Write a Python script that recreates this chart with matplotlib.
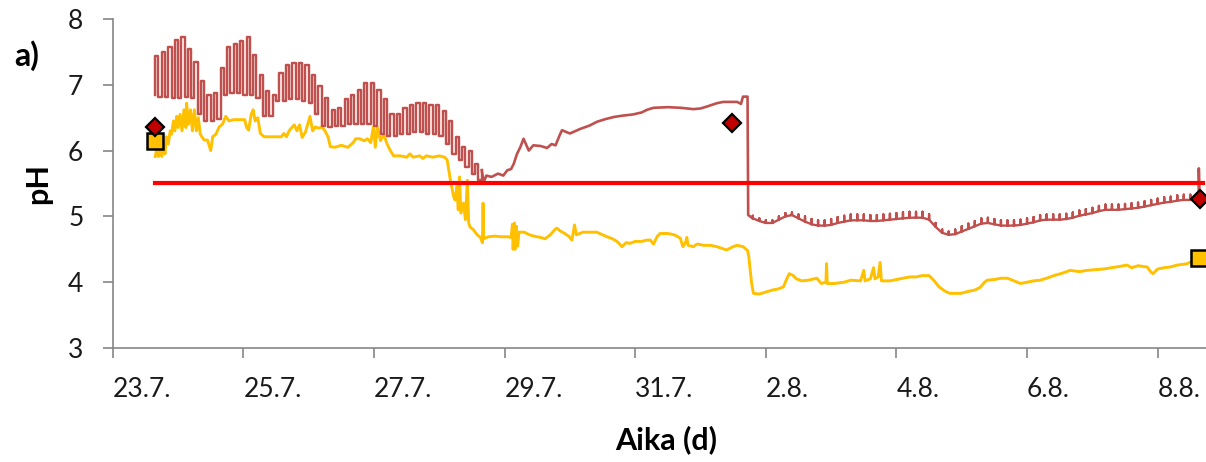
import matplotlib
matplotlib.use("Agg")
import matplotlib.pyplot as plt
import numpy as np

# Time axis: days since 23.7. 00:00
tick_days = [0, 2, 4, 6, 8, 10, 12, 14, 16]
tick_labels = ["23.7.", "25.7.", "27.7.", "29.7.", "31.7.", "2.8.", "4.8.", "6.8.", "8.8."]

# Brown sensor, daily cycling part (each sample: low then high)
brown_osc1_day = [0.65, 0.75, 0.85, 0.95, 1.05, 1.15, 1.25, 1.35, 1.45, 1.55,
                  1.65, 1.75, 1.85, 1.95, 2.05, 2.15, 2.25, 2.35, 2.45, 2.55,
                  2.65, 2.75, 2.85, 2.95, 3.05, 3.15, 3.25, 3.35, 3.45, 3.55,
                  3.65, 3.75, 3.85, 3.95, 4.05, 4.15, 4.25, 4.35, 4.45, 4.55,
                  4.65, 4.75, 4.85, 4.95, 5.05, 5.15, 5.25, 5.35, 5.45, 5.55,
                  5.65]
brown_osc1_low = [6.85, 6.82, 6.82, 6.80, 6.80, 6.82, 6.80, 6.55, 6.45, 6.45,
                  6.48, 6.85, 6.88, 6.88, 6.85, 6.85, 6.80, 6.52, 6.52, 6.75,
                  6.75, 6.78, 6.78, 6.75, 6.72, 6.55, 6.38, 6.36, 6.38, 6.38,
                  6.40, 6.40, 6.40, 6.40, 6.38, 6.25, 6.22, 6.22, 6.25, 6.25,
                  6.28, 6.28, 6.25, 6.25, 6.22, 6.10, 5.95, 5.85, 5.75, 5.65,
                  5.55]
brown_osc1_high = [7.43, 7.50, 7.58, 7.68, 7.72, 7.55, 7.35, 7.05, 6.85, 6.88,
                   7.25, 7.58, 7.62, 7.66, 7.72, 7.45, 7.15, 6.90, 6.85, 7.18,
                   7.30, 7.33, 7.33, 7.30, 7.15, 6.98, 6.80, 6.62, 6.65, 6.78,
                   6.85, 6.92, 7.02, 7.03, 6.92, 6.78, 6.55, 6.55, 6.65, 6.70,
                   6.72, 6.72, 6.70, 6.70, 6.60, 6.45, 6.20, 6.05, 6.00, 5.80,
                   5.70]

# Brown sensor, smooth rise and the drop on 1.8.
brown_mid_day = [5.65, 5.68, 5.72, 5.80, 5.90, 5.98, 6.04, 6.10, 6.14, 6.19, 6.24,
                 6.29, 6.37, 6.44, 6.55, 6.65, 6.72, 6.78, 6.85, 6.88, 6.95,
                 7.00, 7.16, 7.30, 7.42, 7.55, 7.67, 7.80, 7.97, 8.10, 8.18,
                 8.28, 8.50, 8.70, 8.89, 9.00, 9.10, 9.25, 9.35, 9.56, 9.62,
                 9.65, 9.72, 9.73, 9.80]
brown_mid_ph = [5.70, 5.52, 5.62, 5.60, 5.65, 5.62, 5.70, 5.72, 5.80, 5.95, 6.05,
                6.18, 6.00, 6.08, 6.07, 6.04, 6.10, 6.08, 6.25, 6.31, 6.28,
                6.26, 6.33, 6.38, 6.44, 6.48, 6.51, 6.53, 6.55, 6.58, 6.62,
                6.65, 6.66, 6.65, 6.63, 6.64, 6.67, 6.72, 6.74, 6.74, 6.71,
                6.82, 6.82, 5.02, 4.97]

# Brown sensor after the drop (baseline with small upward spikes)
brown_osc2_day = [9.8, 9.9, 10.0, 10.1, 10.2, 10.3, 10.4, 10.5, 10.6, 10.7,
                  10.8, 10.9, 11.0, 11.1, 11.2, 11.3, 11.4, 11.5, 11.6, 11.7,
                  11.8, 11.9, 12.0, 12.1, 12.2, 12.3, 12.4, 12.5, 12.6, 12.7,
                  12.8, 12.9, 13.0, 13.1, 13.2, 13.3, 13.4, 13.5, 13.6, 13.7,
                  13.8, 13.9, 14.0, 14.1, 14.2, 14.3, 14.4, 14.5, 14.6, 14.7,
                  14.8, 14.9, 15.0, 15.1, 15.2, 15.3, 15.4, 15.5, 15.6, 15.7,
                  15.8, 15.9, 16.0, 16.1, 16.2, 16.3, 16.4, 16.5, 16.6]
brown_osc2_low = [4.97, 4.93, 4.90, 4.90, 4.95, 5.00, 5.02, 4.97, 4.92, 4.88,
                  4.86, 4.86, 4.87, 4.90, 4.92, 4.94, 4.94, 4.94, 4.93, 4.93,
                  4.94, 4.95, 4.96, 4.97, 4.98, 4.98, 4.98, 4.95, 4.84, 4.75,
                  4.72, 4.73, 4.77, 4.81, 4.85, 4.89, 4.90, 4.88, 4.86, 4.86,
                  4.86, 4.87, 4.89, 4.91, 4.94, 4.95, 4.95, 4.95, 4.96, 4.98,
                  5.01, 5.03, 5.05, 5.08, 5.10, 5.10, 5.10, 5.11, 5.12, 5.13,
                  5.15, 5.17, 5.19, 5.21, 5.22, 5.24, 5.25, 5.25, 5.25]
brown_osc2_high = [5.01, 4.97, 4.94, 4.94, 5.00, 5.05, 5.06, 5.03, 5.00, 4.96,
                   4.94, 4.94, 4.96, 4.99, 5.01, 5.03, 5.03, 5.03, 5.02, 5.02,
                   5.03, 5.04, 5.05, 5.06, 5.07, 5.07, 5.07, 5.03, 4.90, 4.80,
                   4.77, 4.80, 4.85, 4.89, 4.93, 4.97, 4.98, 4.96, 4.94, 4.94,
                   4.94, 4.95, 4.97, 4.99, 5.02, 5.03, 5.03, 5.03, 5.04, 5.06,
                   5.09, 5.11, 5.13, 5.16, 5.18, 5.18, 5.18, 5.19, 5.20, 5.21,
                   5.23, 5.25, 5.27, 5.29, 5.30, 5.32, 5.33, 5.33, 5.32]

brown_end_day = [16.60, 16.63, 16.63, 16.64, 16.70]
brown_end_ph = [5.25, 5.26, 5.73, 5.26, 5.26]

# Yellow sensor
yellow_day = [0.65, 0.68, 0.70, 0.72, 0.75, 0.78, 0.80, 0.82, 0.85, 0.88,
              0.90, 0.93, 0.95, 0.98, 1.00, 1.03, 1.06, 1.09, 1.12, 1.13,
              1.16, 1.19, 1.22, 1.25, 1.28, 1.31, 1.34, 1.37, 1.40, 1.45,
              1.50, 1.53, 1.58, 1.63, 1.68, 1.73, 1.78, 1.85, 1.95, 2.02,
              2.05, 2.08, 2.12, 2.15, 2.18, 2.22, 2.26, 2.32, 2.40, 2.50,
              2.58, 2.62, 2.66, 2.70, 2.75, 2.78, 2.82, 2.86, 2.90, 2.95,
              3.00, 3.02, 3.06, 3.10, 3.15, 3.20, 3.25, 3.30, 3.33, 3.40,
              3.50, 3.60, 3.68, 3.72, 3.78, 3.85, 3.90, 3.95, 3.99, 4.02,
              4.05, 4.10, 4.15, 4.20, 4.25, 4.30, 4.40, 4.50, 4.55, 4.60,
              4.70, 4.75, 4.80, 4.90, 5.00, 5.08, 5.12, 5.17, 5.22, 5.24,
              5.27, 5.29, 5.31, 5.33, 5.37, 5.40, 5.43, 5.45, 5.47, 5.52,
              5.58, 5.63, 5.66, 5.67, 5.68, 5.75, 5.85, 5.95, 6.05, 6.10,
              6.12, 6.13, 6.15, 6.16, 6.18, 6.20, 6.22, 6.30, 6.38, 6.45,
              6.55, 6.62, 6.70, 6.77, 6.80, 6.85, 6.92, 6.98, 7.03, 7.06,
              7.07, 7.10, 7.20, 7.30, 7.41, 7.50, 7.57, 7.65, 7.72, 7.80,
              7.86, 7.92, 8.00, 8.10, 8.18, 8.23, 8.28, 8.34, 8.38, 8.50,
              8.60, 8.69, 8.73, 8.77, 8.79, 8.81, 8.89, 8.95, 9.05, 9.15,
              9.25, 9.40, 9.50, 9.56, 9.65, 9.72, 9.74, 9.78, 9.81, 9.90,
              10.00, 10.10, 10.20, 10.27, 10.32, 10.36, 10.42, 10.47, 10.55, 10.65,
              10.78, 10.85, 10.92, 10.93, 10.94, 11.05, 11.20, 11.30, 11.45, 11.50,
              11.52, 11.60, 11.65, 11.67, 11.72, 11.75, 11.77, 11.90, 12.05, 12.20,
              12.30, 12.40, 12.50, 12.58, 12.65, 12.75, 12.82, 12.98, 13.10, 13.20,
              13.28, 13.35, 13.39, 13.50, 13.60, 13.70, 13.80, 13.90, 14.00, 14.10,
              14.20, 14.30, 14.41, 14.55, 14.66, 14.80, 14.92, 15.05, 15.17, 15.30,
              15.42, 15.53, 15.60, 15.70, 15.84, 15.90, 15.93, 16.00, 16.10, 16.19,
              16.30, 16.45, 16.55, 16.62, 16.70]
yellow_ph = [5.91, 6.05, 5.91, 6.10, 5.91, 6.10, 5.95, 6.21, 6.10, 6.30,
             6.25, 6.45, 6.30, 6.52, 6.35, 6.55, 6.30, 6.62, 6.35, 6.72,
             6.40, 6.62, 6.30, 6.62, 6.30, 6.50, 6.25, 6.20, 6.16, 6.16,
             6.00, 6.21, 6.25, 6.36, 6.40, 6.52, 6.45, 6.47, 6.47, 6.47,
             6.35, 6.31, 6.55, 6.62, 6.45, 6.50, 6.26, 6.21, 6.21, 6.21,
             6.21, 6.26, 6.21, 6.30, 6.36, 6.39, 6.30, 6.39, 6.20, 6.28,
             6.45, 6.52, 6.30, 6.36, 6.34, 6.36, 6.30, 6.20, 6.06, 6.05,
             6.08, 6.05, 6.12, 6.18, 6.18, 6.15, 6.18, 6.12, 6.36, 6.05,
             6.36, 6.15, 6.25, 6.10, 6.00, 5.92, 5.92, 5.90, 5.95, 5.90,
             5.92, 5.88, 5.92, 5.90, 5.92, 5.90, 5.86, 5.55, 5.30, 5.25,
             5.45, 5.10, 5.60, 5.05, 5.20, 4.95, 5.55, 4.90, 4.84, 4.80,
             4.72, 4.68, 4.60, 5.20, 4.66, 4.69, 4.70, 4.69, 4.69, 4.68,
             4.88, 4.50, 4.90, 4.50, 4.85, 4.55, 4.76, 4.76, 4.72, 4.70,
             4.68, 4.66, 4.72, 4.80, 4.82, 4.78, 4.74, 4.70, 4.64, 4.80,
             4.87, 4.72, 4.76, 4.76, 4.76, 4.72, 4.69, 4.66, 4.62, 4.54,
             4.60, 4.59, 4.62, 4.62, 4.64, 4.64, 4.58, 4.70, 4.74, 4.74,
             4.72, 4.67, 4.54, 4.60, 4.68, 4.56, 4.54, 4.58, 4.56, 4.56,
             4.54, 4.49, 4.54, 4.56, 4.54, 4.48, 4.38, 4.00, 3.83, 3.82,
             3.85, 3.88, 3.90, 3.93, 4.05, 4.13, 4.10, 4.05, 4.02, 4.03,
             4.06, 3.98, 4.00, 4.28, 3.98, 3.98, 4.00, 4.03, 4.02, 4.18,
             4.02, 4.05, 4.22, 4.05, 4.08, 4.30, 4.02, 4.02, 4.05, 4.08,
             4.08, 4.10, 4.10, 4.02, 3.93, 3.86, 3.83, 3.83, 3.86, 3.88,
             3.92, 4.00, 4.03, 4.04, 4.06, 4.06, 4.02, 3.98, 4.00, 4.02,
             4.03, 4.06, 4.10, 4.14, 4.18, 4.16, 4.18, 4.19, 4.20, 4.22,
             4.24, 4.26, 4.22, 4.25, 4.23, 4.15, 4.13, 4.20, 4.22, 4.23,
             4.26, 4.28, 4.33, 4.30, 4.36]

# pH limit line
limit_day = [0.65, 16.70]
limit_ph = [5.5, 5.5]

# Manual reference measurements
diamond_day = [0.65, 9.48, 16.65]
diamond_ph = [6.36, 6.42, 5.26]
square_day = [0.64, 16.64]
square_ph = [6.15, 4.37]

BROWN = "#C0504D"
YELLOW = "#FFC000"
AXIS_GRAY = "#868686"


def _bars(day, low, high):
    """Each sample as low -> high at the same time (drawn as a square wave)."""
    x = np.repeat(np.asarray(day, dtype=float), 2)
    y = np.column_stack([low, high]).ravel()
    return x, y


def _comb(day, base, peak):
    """Baseline with a thin upward tick at every sample."""
    x = np.repeat(np.asarray(day, dtype=float), 3)
    y = np.column_stack([base, peak, base]).ravel()
    return x, y


def main():
    plt.rcParams["font.family"] = ["Lato", "DejaVu Sans"]

    fig = plt.figure(figsize=(12.06, 4.62), dpi=100)
    ax = fig.add_axes([0.0935, 0.2468, 0.9065, 0.7121])

    ax.plot(yellow_day, yellow_ph, color=YELLOW, lw=2.1, zorder=2)

    x1, y1 = _bars(brown_osc1_day, brown_osc1_low, brown_osc1_high)
    ax.plot(x1, y1, color=BROWN, lw=1.75, drawstyle="steps-mid", zorder=3)
    ax.plot(brown_mid_day, brown_mid_ph, color=BROWN, lw=1.9, zorder=3)
    x2, y2 = _comb(brown_osc2_day, brown_osc2_low, brown_osc2_high)
    ax.plot(x2, y2, color=BROWN, lw=1.7, zorder=3)
    ax.plot(brown_end_day, brown_end_ph, color=BROWN, lw=1.9, zorder=3)

    ax.plot(limit_day, limit_ph, color="#FF0000", lw=3.0, zorder=4)
    ax.plot(diamond_day, diamond_ph, ls="none", marker="D", ms=9, mfc="#C00000",
            mec="black", mew=1.6, zorder=6, clip_on=False)
    ax.plot(square_day, square_ph, ls="none", marker="s", ms=11, mfc=YELLOW,
            mec="black", mew=1.8, zorder=5, clip_on=False)

    ax.set_xlim(0, 16.74)
    ax.set_ylim(3, 8)
    ax.set_xticks(tick_days)
    ax.set_xticklabels(tick_labels)
    for lab in ax.get_xticklabels():
        lab.set_horizontalalignment("left")
    ax.set_yticks([3, 4, 5, 6, 7, 8])

    for side in ("top", "right"):
        ax.spines[side].set_visible(False)
    for side in ("left", "bottom"):
        ax.spines[side].set_color(AXIS_GRAY)
        ax.spines[side].set_linewidth(1.2)
    ax.tick_params(axis="both", direction="out", length=7.2, width=1.2,
                   color=AXIS_GRAY, labelsize=19, labelcolor="#1a1a1a")
    ax.tick_params(axis="x", pad=14)
    ax.tick_params(axis="y", pad=14)

    fig.text(0.552, 1 - 440 / 462, "Aika (d)", ha="center", va="center",
             fontsize=22, fontweight="bold")
    fig.text(38 / 1206, 1 - 183 / 462, "pH", ha="center", va="center",
             rotation=90, fontsize=22, fontweight="bold")
    fig.text(27 / 1206, 1 - 56 / 462, "a)", ha="center", va="center",
             fontsize=23, fontweight="bold")

    fig.savefig("out.png", dpi=100)


if __name__ == "__main__":
    main()
